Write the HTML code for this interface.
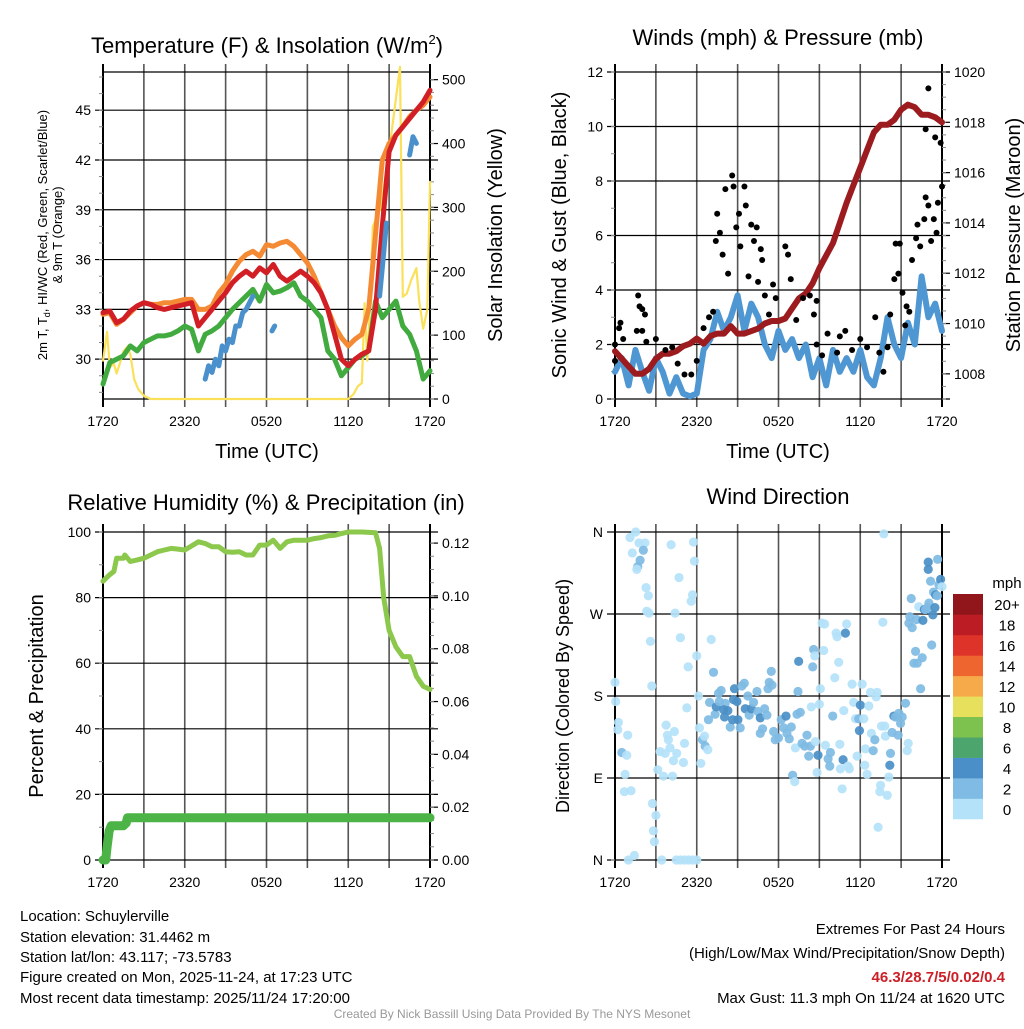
<!DOCTYPE html>
<html><head><meta charset="utf-8"><style>
html,body{margin:0;padding:0;background:#fff;}
svg text{font-family:"Liberation Sans",Arial,sans-serif;fill:#000;}
</style></head><body>
<svg id="fig" xmlns="http://www.w3.org/2000/svg" width="1024" height="1024" viewBox="0 0 1024 1024">
<rect width="1024" height="1024" fill="#fff"/>
<g id="layer"></g>
<text x="267" y="53" font-size="22" text-anchor="middle">Temperature (F) &amp; Insolation (W/m<tspan font-size="13" dy="-9">2</tspan><tspan dy="9">)</tspan></text>
<text x="778" y="45" font-size="22" text-anchor="middle">Winds (mph) &amp; Pressure (mb)</text>
<text x="266" y="510" font-size="22" text-anchor="middle">Relative Humidity (%) &amp; Precipitation (in)</text>
<text x="778" y="504" font-size="22" text-anchor="middle">Wind Direction</text>

<text transform="translate(47,235) rotate(-90)" font-size="13" text-anchor="middle">2m T, T<tspan font-size="9" dy="3">d</tspan><tspan dy="-3">, HI/WC (Red, Green, Scarlet/Blue)</tspan></text>
<text transform="translate(62,235) rotate(-90)" font-size="13" text-anchor="middle">&amp; 9m T (Orange)</text>
<text transform="translate(502,235) rotate(-90)" font-size="20" text-anchor="middle">Solar Insolation (Yellow)</text>
<text x="267" y="458" font-size="20" text-anchor="middle">Time (UTC)</text>
<text transform="translate(566,235) rotate(-90)" font-size="20" text-anchor="middle">Sonic Wind &amp; Gust (Blue, Black)</text>
<text transform="translate(1020,235) rotate(-90)" font-size="20" text-anchor="middle">Station Pressure (Maroon)</text>
<text x="778" y="458" font-size="20" text-anchor="middle">Time (UTC)</text>
<text transform="translate(43,696) rotate(-90)" font-size="20" text-anchor="middle">Percent &amp; Precipitation</text>
<text transform="translate(569,696) rotate(-90)" font-size="18" text-anchor="middle">Direction (Colored By Speed)</text>

<g font-size="15">
<text x="20" y="921">Location: Schuylerville</text>
<text x="20" y="942">Station elevation: 31.4462 m</text>
<text x="20" y="962">Station lat/lon: 43.117; -73.5783</text>
<text x="20" y="982">Figure created on Mon, 2025-11-24, at 17:23 UTC</text>
<text x="20" y="1003">Most recent data timestamp: 2025/11/24 17:20:00</text>
</g>
<g font-size="15" text-anchor="end">
<text x="1005" y="934">Extremes For Past 24 Hours</text>
<text x="1005" y="958">(High/Low/Max Wind/Precipitation/Snow Depth)</text>
<text x="1005" y="982" fill="#cc2027" style="fill:#cc2027" font-weight="bold">46.3/28.7/5/0.02/0.4</text>
<text x="1005" y="1003">Max Gust: 11.3 mph On 11/24 at 1620 UTC</text>
</g>
<text x="512" y="1018" font-size="12" text-anchor="middle" style="fill:#999">Created By Nick Bassill Using Data Provided By The NYS Mesonet</text>
</svg>
<script>
// ---------- data ----------
const xTickLabels = ["1720","2320","0520","1120","1720"];
const halfHours = [0,0.5,1,1.5,2,2.5,3,3.5,4,4.5,5,5.5,6,6.5,7,7.5,8,8.5,9,9.5,10,10.5,11,11.5,12,12.5,13,13.5,14,14.5,15,15.5,16,16.5,17,17.5,18,18.5,19,19.5,20,20.5,21,21.5,22,22.5,23,23.5,24];
const temp2m = [32.8,32.9,32.2,32.4,32.9,33.2,33.4,33.3,33.1,33.0,33.1,33.2,33.3,33.4,32.0,32.5,33.0,33.5,34.0,34.6,35.0,35.3,35.0,35.5,35.2,35.7,35.0,34.7,35.0,35.3,35.0,34.6,34.0,33.0,31.5,30.0,29.6,30.0,30.3,30.5,33.0,38.0,42.5,43.5,44.0,44.5,45.0,45.5,46.2];
const temp9m = [32.7,32.8,32.1,32.4,32.8,33.2,33.4,33.3,33.3,33.4,33.4,33.5,33.6,33.6,33.0,33.0,33.2,34.0,34.5,35.3,35.9,36.3,36.5,36.2,36.9,36.8,37.0,37.1,36.8,36.3,35.8,35.0,34.0,33.0,32.0,31.3,30.8,31.2,31.5,33.0,37.5,42.0,43.0,43.5,44.0,44.6,45.0,45.3,45.8];
const dewpoint = [28.5,29.8,30.0,30.2,30.8,30.5,31.0,31.2,31.4,31.4,31.5,31.7,32.0,31.8,30.5,31.5,31.7,32.0,32.5,33.0,33.4,33.8,34.2,33.5,34.5,34.0,34.1,34.3,34.6,33.8,33.5,33.0,32.5,30.5,30.0,29.0,29.5,30.0,30.2,30.5,33.5,32.5,33.0,33.5,32.0,31.5,30.5,28.8,29.3];
const hiwcHours = [[7.5,7.75,8,8.25,8.5,8.75,9,9.25,9.5,9.75,10,10.25,10.5,10.75,11],[12.4,12.6],[20.3,20.5,20.8],[22.5,22.75,23]];
const hiwcVals = [[28.8,29.6,29.2,30.0,29.6,30.8,30.5,31.2,31.0,32.0,32.0,32.8,33.0,33.4,33.8],[31.7,32.0],[33.8,35.5,38.2],[42.3,43.4,43.0]];
const solarHours = [0,0.3,0.5,0.8,1,1.3,1.5,1.8,2,2.3,2.6,3,3.5,4,18,18.4,18.7,19,19.2,19.4,19.6,19.8,20,20.4,20.8,21.2,21.5,21.8,22,22.3,22.6,23,23.2,23.5,23.8,24];
const solarVals = [60,105,50,55,40,60,75,82,70,30,15,5,0,0,0,8,20,25,150,60,150,270,280,300,360,420,470,520,160,165,185,205,155,110,140,340];
const windVals = [1.0,1.5,0.5,1.8,1.0,0.3,1.5,1.0,0.2,0.8,0.2,0.1,0.2,1.8,2.2,3.2,2.5,3.0,3.8,2.5,3.5,3.0,2.0,1.5,2.5,1.8,2.2,1.5,2.0,0.8,1.5,0.5,1.8,1.0,1.5,1.0,1.8,0.8,0.5,1.5,3.0,2.0,1.5,2.8,2.0,4.5,3.0,3.5,2.5];
const pressureVals = [1008.9,1008.6,1008.3,1008.0,1008.0,1008.2,1008.6,1008.8,1008.8,1008.9,1009.1,1009.2,1009.4,1009.2,1009.5,1009.6,1009.6,1009.9,1009.6,1009.6,1009.7,1009.8,1010.0,1010.1,1010.1,1010.2,1010.6,1011.0,1011.2,1011.6,1012.2,1012.7,1013.2,1014.0,1014.8,1015.5,1016.2,1016.9,1017.6,1017.9,1017.9,1018.1,1018.5,1018.7,1018.6,1018.3,1018.3,1018.2,1018.0];
const gustHours = [0,0,0.4,0.3,0.6,1.7,1.8,2.0,2.2,1.6,2.0,2.3,3.0,3.7,4.2,4.6,5.1,5.6,6.0,6.5,6.9,7.2,7.4,7.5,7.7,7.9,8.1,8.3,8.6,8.7,8.9,9.1,9.2,9.5,9.6,9.8,10.0,10.2,10.4,10.7,10.8,10.5,11.0,11.3,11.6,11.8,12.5,12.7,12.9,13.3,13.8,14.3,14.6,14.8,14.8,15.2,15.6,16.3,16.5,16.9,17.4,18.0,18.5,19.1,19.4,19.7,20.0,20.2,20.5,20.6,20.8,20.9,21.1,21.4,21.6,21.3,21.8,22.1,22.2,22.4,22.7,22.8,23.0,22.8,23.0,23.4,23.2,23.6,23.7,23.5,23.9,24];
const gustVals = [2.0,1.4,2.8,2.6,2.2,3.8,3.4,3.3,3.1,2.5,2.5,2.1,2.2,1.8,1.9,1.3,0.9,0.9,1.4,2.6,3.0,3.2,5.8,6.8,6.1,5.3,7.7,4.6,8.2,7.8,6.3,6.8,5.6,7.8,7.1,4.5,6.4,5.8,6.3,5.5,5.1,4.3,3.8,3.1,4.2,3.7,5.6,5.3,4.4,2.9,3.7,3.8,3.1,3.6,2.0,1.6,2.4,1.7,2.3,2.5,1.8,2.2,1.9,3.0,1.7,1.0,1.9,3.1,4.4,5.7,4.6,5.7,3.9,3.4,3.2,2.7,5.1,5.9,6.4,5.6,6.6,7.4,7.1,9.9,11.4,6.6,5.8,6.1,7.2,9.6,9.4,7.8];
const rhHours = [0,0.5,0.8,1,1.5,1.6,2,2.5,3,3.5,4,4.5,5,5.5,6,7,7.5,8,8.5,9,9.5,10,10.5,11,11.5,12,12.5,13,13.5,14,14.5,15,15.5,16,16.5,17,17.5,18,19,20,20.3,20.6,21,21.5,22,22.5,23,23.5,24];
const rhVals = [85,87,88,92,92,93,91,91.5,92,93,94,94.5,95,94.8,94.5,97,96.5,95.5,95.5,94,93.8,94,93,93,96,96,97.5,95,97,97.5,97.5,97.5,98,98.3,98.8,99,99.5,100,100,99.8,95,80,70,65,62,62,56,53,52];
const precipHours = [0,0.2,0.3,0.45,0.6,1.0,1.5,1.7,1.8,24];
const precipVals = [0,0,0.005,0.011,0.013,0.013,0.013,0.014,0.016,0.016];
const dirHours = [0,0.05,0.25,0.2,0.93,0.5,0.86,0.74,0.69,1.18,0.98,1.42,1.52,1.1,1.27,1.76,2.2,2.08,1.84,1.67,1.6,2.28,2.45,2.33,2.5,2.6,2.7,2.75,3.0,2.82,2.89,3.14,3.31,3.43,3.55,4.12,4.7,4.41,4.8,3.75,3.85,4.36,3.92,4.04,3.68,4.53,4.29,4.22,5.1,5.02,5.27,5.37,5.76,5.83,5.69,5.59,6.0,6.13,6.2,6.3,6.42,6.57,6.62,6.81,6.86,7.06,7.23,6.94,7.35,7.43,7.6,7.79,7.65,8.09,7.97,8.28,8.04,8.46,8.63,8.77,8.7,8.95,9.02,9.19,9.31,9.49,9.56,9.75,9.85,10.0,10.17,10.42,10.49,10.66,10.66,10.83,10.98,11.15,11.23,11.32,11.47,11.52,11.64,11.76,12.0,12.2,12.55,12.38,12.62,12.94,12.79,13.04,13.19,13.24,13.36,13.48,13.43,13.6,13.73,13.92,14.09,14.22,14.34,14.41,14.51,14.58,14.66,14.71,14.83,14.9,15.0,15.07,15.2,15.39,15.32,15.44,15.64,15.76,15.81,15.98,16.13,16.23,16.3,16.42,16.5,16.54,16.67,16.74,16.79,16.91,17.0,17.1,17.2,17.4,17.52,17.65,17.77,17.89,18.01,17.94,18.14,18.26,18.38,18.33,18.5,18.63,18.75,18.82,18.95,19.07,19.17,19.24,19.31,19.44,19.49,19.66,19.73,19.56,19.8,19.85,19.98,20.1,20.17,20.22,20.34,20.47,20.59,20.78,20.83,20.96,21.08,21.32,21.45,21.52,21.57,21.64,21.74,21.81,21.94,22.06,22.13,22.18,22.3,22.43,22.55,22.6,22.7,22.79,22.92,22.99,22.99,23.04,23.16,23.24,23.33,23.38,23.48,23.53,23.65,23.68,23.77,23.9,24,4.5,4.8,5.1,5.4,5.7,6.0];
const dirDegrees = [195,174,151,143,137,118,115,94,75,76,0,5,360,354,337,348,348,340,329,322,319,299,290,273,271,240,191,62,49,32,20,99,119,0,92,346,310,271,244,148,137,141,132,123,117,117,109,92,128,107,167,212,349,328,291,284,224,180,145,106,132,136,125,121,154,242,206,173,160,168,183,186,174,172,165,164,157,146,154,188,176,174,154,145,191,194,166,180,159,166,173,185,163,156,139,144,166,159,188,195,207,192,141,132,134,154,158,145,139,146,133,93,86,123,160,218,185,162,128,125,137,114,125,168,212,231,224,130,96,115,171,188,260,259,230,126,111,103,118,158,200,249,245,217,127,100,78,110,164,249,259,103,100,193,173,155,114,155,170,142,193,155,122,104,94,169,184,139,120,132,179,184,36,75,82,261,358,147,147,136,71,91,104,117,140,158,157,137,161,150,157,172,120,128,260,267,287,255,216,229,264,216,278,188,222,263,275,275,277,319,327,282,306,236,269,294,277,291,290,330,302,308,300,0,0,0,0,0,0];
const dirSpeeds = [1,1,1,1,1,3,1,1,1,1,1,1,1,1,1,1,1,3,3,3,1,1,1,1,1,1,1,1,1,1,1,1,1,1,1,1,1,1,1,1,1,1,1,1,1,1,1,1,1,1,1,1,1,1,1,1,1,1,1,1,3,1,3,1,3,1,3,3,3,4.5,3,3,3,3,4.5,4.5,4.5,3,4.5,4.5,4.5,4.5,4.5,3,3,3,4.5,3,3,4.5,3,3,3,4.5,3,3,3,3,3,3,3,3,3,3,3,3,4.5,3,3,3,3,3,1,1,3,4.5,3,3,3,3,3,3,3,1,3,3,1,1,1,4.5,1,1,1,1,1,1,3,3,3,3,1,1,1,1,1,1,1,4.5,1,4.5,1,1,1,1,1,1,1,3,4.5,4.5,1,1,1,1,1,1,1,1,3,3,1,1,1,1,1,1,1,1,1,1,1,1,4.5,3,3,4.5,3,3,3,3,3,3,1,1,3,3,3,3,3,3,3,3,1,3,3,4.5,4.5,3,3,4.5,4.5,3,3,3,4.5,3,4.5,4.5,3,3,3,4.5,1,1,1,1,1,1,1];
const cbLabels = ["0","2","4","6","8","10","12","14","16","18","20+"];
const cbColors = ["#b4e2f8","#7fbbe4","#4a8fc7","#4da56e","#7dc14f","#e7e05c","#f7aa4a","#ef6530","#dd3328","#bc1c24","#90161b"];

// ---------- helpers ----------
const NS="http://www.w3.org/2000/svg";
const layer=document.getElementById('layer');
function mk(tag,attrs,parent){const e=document.createElementNS(NS,tag);for(const k in attrs)e.setAttribute(k,attrs[k]);(parent||layer).appendChild(e);return e;}
function panel(x0,y0,x1,y1,name){
  const g=mk('g',{});
  
  
  return g;
}
function xScale(x0,x1){return h=>x0+h/24*(x1-x0);}
function yScale(y0,y1,v0,v1){return v=>y1-(v-v0)/(v1-v0)*(y1-y0);}
function vgrid(g,x0,x1,y0,y1){
  for(let i=0;i<=8;i++){const x=x0+i*(x1-x0)/8;
    const l=mk('line',{x1:x,x2:x,y1:y0-8,y2:y1+8,stroke:(i==0||i==8)?'#000':'#555','stroke-width':(i==0||i==8)?2:1.6},g);
    
    
  }
  xTickLabels.forEach((t,i)=>{const tx=mk('text',{x:x0+i*(x1-x0)/4,y:y1+27,'font-size':14,'text-anchor':'middle'},g);tx.textContent=t;
    
    });
}
function hAxis(g,side,xe,ticks,ys,labels,minorStep,vmin,vmax,grid,x0,x1){
  ticks.forEach((v,i)=>{const y=ys(v);
    if(grid){const gl=mk('line',{x1:x0-8,x2:x1+8,y1:y,y2:y,stroke:'#000','stroke-width':1.2},g);
      
      }
    else mk('line',{x1:xe,x2:xe+(side<0?-8:8),y1:y,y2:y,stroke:'#000','stroke-width':1.2},g);
    const t=mk('text',{x:side<0?xe-12:xe+12,y:y+5,'font-size':14,'text-anchor':side<0?'end':'start'},g);t.textContent=labels[i];
    
    
  });
  for(let v=vmin;v<=vmax+1e-9;v+=minorStep){const y=ys(v);mk('line',{x1:xe,x2:xe+(side<0?-4:4),y1:y,y2:y,stroke:'#888','stroke-width':1},g);}
}
function path(g,xs,ys,hs,vs,attrs,name){
  let d='';hs.forEach((h,i)=>{d+=(i?'L':'M')+xs(h).toFixed(1)+','+ys(vs[i]).toFixed(1);});
  const p=mk('path',Object.assign({d:d,fill:'none','stroke-linejoin':'round','stroke-linecap':'round'},attrs),g);
  
  
  return p;
}

// ---------- Panel 1: temperature ----------
(function(){
  const x0=103,x1=430,y0=72,y1=399;
  const g=panel(x0,y0,x1,y1,'temperature-panel');
  const xs=xScale(x0,x1), ys=yScale(y0,y1,27.6,47.3), ysr=yScale(y0,y1,0,512);
  vgrid(g,x0,x1,y0,y1);
  mk('line',{x1:x0,x2:x1,y1:y0,y2:y0,stroke:'#000','stroke-width':1.2},g);
  mk('line',{x1:x0,x2:x1,y1:y1,y2:y1,stroke:'#000','stroke-width':1.2},g);
  hAxis(g,-1,x0,[30,33,36,39,42,45],ys,["30","33","36","39","42","45"],1,28,47,true,x0,x1);
  hAxis(g,1,x1,[0,100,200,300,400,500],ysr,["0","100","200","300","400","500"],20,0,500,false);
  path(g,xs,ysr,solarHours,solarVals,{stroke:'#fbe05a','stroke-width':2.2},'solar-insolation-line');
  path(g,xs,ys,halfHours,temp9m,{stroke:'#f58a34','stroke-width':5},'temp-9m-line');
  path(g,xs,ys,halfHours,dewpoint,{stroke:'#41ab3f','stroke-width':5},'dewpoint-line');
  path(g,xs,ys,halfHours,temp2m,{stroke:'#d21f26','stroke-width':5},'temp-2m-line');
  hiwcHours.forEach((hs,i)=>path(g,xs,ys,hs,hiwcVals[i],{stroke:'#4a90cd','stroke-width':5},'heat-index-wind-chill-segment'));
})();

// ---------- Panel 2: winds ----------
(function(){
  const x0=615,x1=942,y0=72,y1=399;
  const g=panel(x0,y0,x1,y1,'winds-panel');
  const xs=xScale(x0,x1), ys=yScale(y0,y1,0,12), ysr=yScale(y0,y1,1007.0,1020);
  vgrid(g,x0,x1,y0,y1);
  hAxis(g,-1,x0,[0,2,4,6,8,10,12],ys,["0","2","4","6","8","10","12"],1,0,12,true,x0,x1);
  hAxis(g,1,x1,[1008,1010,1012,1014,1016,1018,1020],ysr,["1008","1010","1012","1014","1016","1018","1020"],0.5,1007,1020,false);
  path(g,xs,ys,halfHours,windVals,{stroke:'#4f97d2','stroke-width':6},'sonic-wind-line');
  path(g,xs,ysr,halfHours,pressureVals,{stroke:'#9b1b1f','stroke-width':6},'pressure-line');
  gustHours.forEach((h,i)=>{const c=mk('circle',{cx:xs(h),cy:ys(gustVals[i]),r:3,fill:'#000'},g);
    
    });
})();

// ---------- Panel 3: RH ----------
(function(){
  const x0=103,x1=430,y0=532,y1=860;
  const g=panel(x0,y0,x1,y1,'humidity-panel');
  const xs=xScale(x0,x1), ys=yScale(y0,y1,0,100), ysr=yScale(y0,y1,0,0.1242);
  vgrid(g,x0,x1,y0,y1);
  hAxis(g,-1,x0,[0,20,40,60,80,100],ys,["0","20","40","60","80","100"],10,0,100,true,x0,x1);
  hAxis(g,1,x1,[0,0.02,0.04,0.06,0.08,0.10,0.12],ysr,["0.00","0.02","0.04","0.06","0.08","0.10","0.12"],0.005,0,0.12,false);
  path(g,xs,ys,rhHours,rhVals,{stroke:'#8cc84b','stroke-width':5},'relative-humidity-line');
  path(g,xs,ysr,precipHours,precipVals,{stroke:'#4cb447','stroke-width':9},'precipitation-line');
})();

// ---------- Panel 4: wind direction ----------
(function(){
  const x0=615,x1=942,y0=532,y1=860;
  const g=panel(x0,y0,x1,y1,'wind-direction-panel');
  const xs=xScale(x0,x1), ys=yScale(y0,y1,0,360);
  vgrid(g,x0,x1,y0,y1);
  hAxis(g,-1,x0,[0,90,180,270,360],ys,["N","E","S","W","N"],1000,0,0,true,x0,x1);
  function col(s){if(s===undefined)s=1;let i=Math.min(10,Math.floor(s/2));return cbColors[i];}
  dirHours.forEach((h,i)=>{const c=mk('circle',{cx:xs(h),cy:ys(dirDegrees[i]),r:4.6,fill:col(dirSpeeds[i]),'fill-opacity':0.92},g);
    
    });
  const lg=mk('g',{});
  
  
  const bh=(819-594)/11;
  cbColors.forEach((c,i)=>{mk('rect',{x:953,y:819-(i+1)*bh,width:30,height:bh+0.3,fill:c},lg);
    const t=mk('text',{x:1007,y:819-(i+0.5)*bh+6,'font-size':15,'text-anchor':'middle'},lg);t.textContent=cbLabels[i];
    
    });
  const u=mk('text',{x:1007,y:588,'font-size':15,'text-anchor':'middle'},lg);u.textContent='mph';
  
  
})();
</script>
</body></html>
